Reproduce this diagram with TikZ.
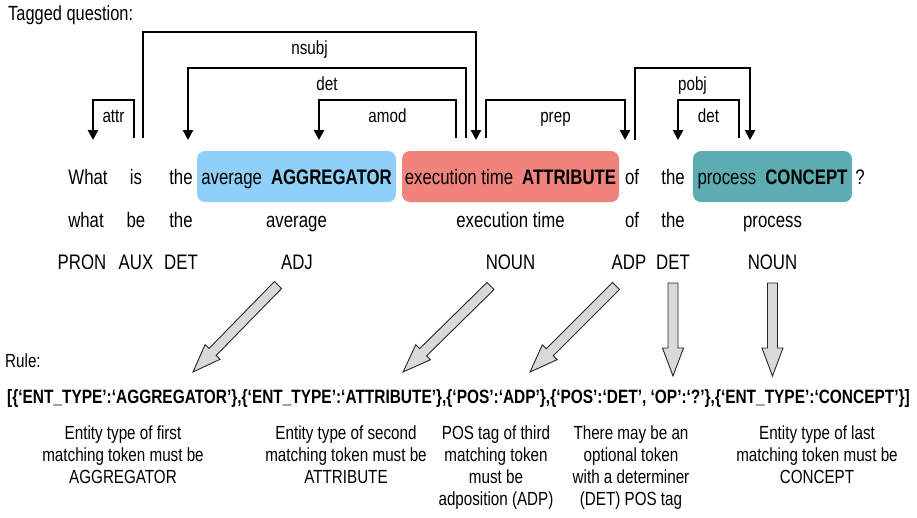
\documentclass[tikz,border=0pt]{standalone}
\usepackage{fontspec}
\setmainfont[FakeStretch=0.8]{Liberation Sans}
\usetikzlibrary{positioning}
\usetikzlibrary{calc}
\usetikzlibrary{arrows.meta}
\definecolor{aggblue}{HTML}{8FD0F8}
\definecolor{attrred}{HTML}{F0837B}
\definecolor{conteal}{HTML}{5BADB1}
% fat grey arrow from #1 to #2
\newcommand{\bigarrow}[2]{%
  \draw[bigarr] let \p1=($(#2)-(#1)$), \n1={atan2(\y1,\x1)}, \n2={veclen(\x1,\y1)} in
    [shift={(#1)}, rotate=\n1]
    (0,-5) -- (\n2-28,-5) -- (\n2-28,-10.5) -- (\n2,0) -- (\n2-28,10.5) -- (\n2-28,5) -- (0,5) -- cycle;}

\begin{document}
\begin{tikzpicture}
        [x=1pt, y=-1pt,
         title/.style={font=\fontsize{19}{23}\selectfont, anchor=base west, inner sep=0pt},
         tok/.style={font=\fontsize{21}{25}\selectfont, anchor=base, inner sep=0pt},
         ent/.style={font=\fontsize{21}{25}\selectfont, rounded corners=8pt, minimum width=#1,
                     minimum height=51pt, inner sep=0pt, text height=15pt, text depth=0pt},
         dep/.style={line width=2.6pt, -{Triangle[width=10pt,length=10pt]}},
         deplab/.style={font=\fontsize{19}{23}\selectfont, anchor=base, yshift=-22pt, inner sep=0pt},
         bigarr/.style={draw=black!85, line width=0.9pt, fill=gray!30, line join=miter},
         rule/.style={font=\fontsize{19.3}{23}\selectfont\bfseries, anchor=base west, inner sep=0pt},
         desc/.style={font=\fontsize{19}{22}\selectfont, align=center, anchor=north, inner sep=0pt}]
        \useasboundingbox (0,0) rectangle (917,517);

        \node[title,font=\fontsize{20.5}{24}\selectfont] (tagged) at (8,20) {Tagged question:};

        % tokens
        \node[tok] (w-what) at (88,184) {What};
        \node[tok] (w-is)   at (136,184) {is};
        \node[tok] (w-the)  at (181,184) {the};
        \node[ent=199pt,fill=aggblue] (w-avg)  at (296.5,176.5) {average\hspace{9pt}\textbf{AGGREGATOR}};
        \node[ent=217pt,fill=attrred] (w-exec) at (510.5,176.5) {execution time\hspace{9pt}\textbf{ATTRIBUTE}};
        \node[tok] (w-of)   at (632,184) {of};
        \node[tok] (w-the2) at (673,184) {the};
        \node[ent=159pt,fill=conteal] (w-proc) at (772.5,176.5) {process\hspace{9pt}\textbf{CONCEPT}};
        \node[tok] (w-q)    at (860,184) {?};

        % lemmas
        \node[tok] (l-what) at (86,227) {what};
        \node[tok] (l-is)   at (w-is.center |- 0,227) {be};
        \node[tok] (l-the)  at (w-the.center |- 0,227) {the};
        \node[tok] (l-avg)  at (w-avg.center |- 0,227) {average};
        \node[tok] (l-exec) at (w-exec.center |- 0,227) {execution time};
        \node[tok] (l-of)   at (w-of.center |- 0,227) {of};
        \node[tok] (l-the2) at (w-the2.center |- 0,227) {the};
        \node[tok] (l-proc) at (w-proc.center |- 0,227) {process};

        % POS tags
        \node[tok] (p-what) at (82,269) {PRON};
        \node[tok] (p-is)   at (w-is.center |- 0,269) {AUX};
        \node[tok] (p-the)  at (w-the.center |- 0,269) {DET};
        \node[tok] (p-avg)  at (297,269) {ADJ};
        \node[tok] (p-exec) at (w-exec.center |- 0,269) {NOUN};
        \node[tok] (p-of)   at (629,269) {ADP};
        \node[tok] (p-the2) at (w-the2.center |- 0,269) {DET};
        \node[tok] (p-proc) at (w-proc.center |- 0,269) {NOUN};

        % dependency arcs
        \draw[dep] ($(w-is.center |- 0,138)+(-2,0)$) |- node[deplab,pos=0.75] {attr}
                   ($(w-what.center |- 0,100)+(5,0)$) -- ($(w-what.center |- 0,140)+(5,0)$);
        \draw[dep] ($(w-is.center |- 0,138)+(7,0)$) |- node[deplab,pos=0.75] {nsubj}
                   ($(w-exec.center |- 0,32)+(-34.5,0)$) -- ($(w-exec.center |- 0,140)+(-34.5,0)$);
        \draw[dep] ($(w-exec.center |- 0,138)+(-44.5,0)$) |- node[deplab,pos=0.75] {det}
                   ($(w-the.center |- 0,68)+(7,0)$) -- ($(w-the.center |- 0,140)+(7,0)$);
        \draw[dep] ($(w-exec.center |- 0,138)+(-54.5,0)$) |- node[deplab,pos=0.75] {amod}
                   ($(w-avg.center |- 0,100)+(22.5,0)$) -- ($(w-avg.center |- 0,140)+(22.5,0)$);
        \draw[dep] ($(w-exec.center |- 0,138)+(-24.5,0)$) |- node[deplab,pos=0.75] {prep}
                   ($(w-of.center |- 0,100)+(-7,0)$) -- ($(w-of.center |- 0,140)+(-7,0)$);
        \draw[dep] ($(w-of.center |- 0,140)+(3,0)$) |- node[deplab,pos=0.75] {pobj}
                   ($(w-proc.center |- 0,68)+(-22.5,0)$) -- ($(w-proc.center |- 0,140)+(-22.5,0)$);
        \draw[dep] ($(w-proc.center |- 0,138)+(-33.5,0)$) |- node[deplab,pos=0.75] {det}
                   ($(w-the2.center |- 0,100)+(5,0)$) -- ($(w-the2.center |- 0,140)+(5,0)$);

        \node[title] (rulehead) at (5,367) {Rule:};
        \node[rule] (rule) at (7,403)
            {[\{‘ENT\_TYPE’:‘AGGREGATOR’\},\{‘ENT\_TYPE’:‘ATTRIBUTE’\},\{‘POS’:‘ADP’\},\{‘POS’:‘DET’, ‘OP’:‘?’\},\{‘ENT\_TYPE’:‘CONCEPT’\}]};

        % big arrows
        \coordinate (a-avg)  at ($(p-avg.base)+(-19,16)$);
        \coordinate (a-exec) at ($(p-exec.base)+(-20,17)$);
        \coordinate (a-of)   at ($(p-of.base)+(-13,17)$);
        \coordinate (a-the2) at ($(p-the2.base)+(0,14)$);
        \coordinate (a-proc) at ($(p-proc.base)+(0,14)$);
        \coordinate (t-avg)  at (193,372);
        \coordinate (t-exec) at (403,372);
        \coordinate (t-of)   at (530,372);
        \coordinate (t-the2) at (a-the2 |- 0,376);
        \coordinate (t-proc) at (a-proc |- 0,376);
        \bigarrow{a-avg}{t-avg}
        \bigarrow{a-exec}{t-exec}
        \bigarrow{a-of}{t-of}
        \bigarrow{a-the2}{t-the2}
        \bigarrow{a-proc}{t-proc}

        % explanations
        \node[desc] (d-avg)  at (123,426) {Entity type of first\\matching token must be\\AGGREGATOR};
        \node[desc] (d-exec) at (346,426) {Entity type of second\\matching token must be\\ATTRIBUTE};
        \node[desc] (d-of)   at (496,426) {POS tag of third\\matching token\\must be\\adposition (ADP)};
        \node[desc] (d-the2) at (631,426) {There may be an\\optional token\\with a determiner\\(DET) POS tag};
        \node[desc] (d-proc) at (817,426) {Entity type of last\\matching token must be\\CONCEPT};
\end{tikzpicture}
\end{document}
